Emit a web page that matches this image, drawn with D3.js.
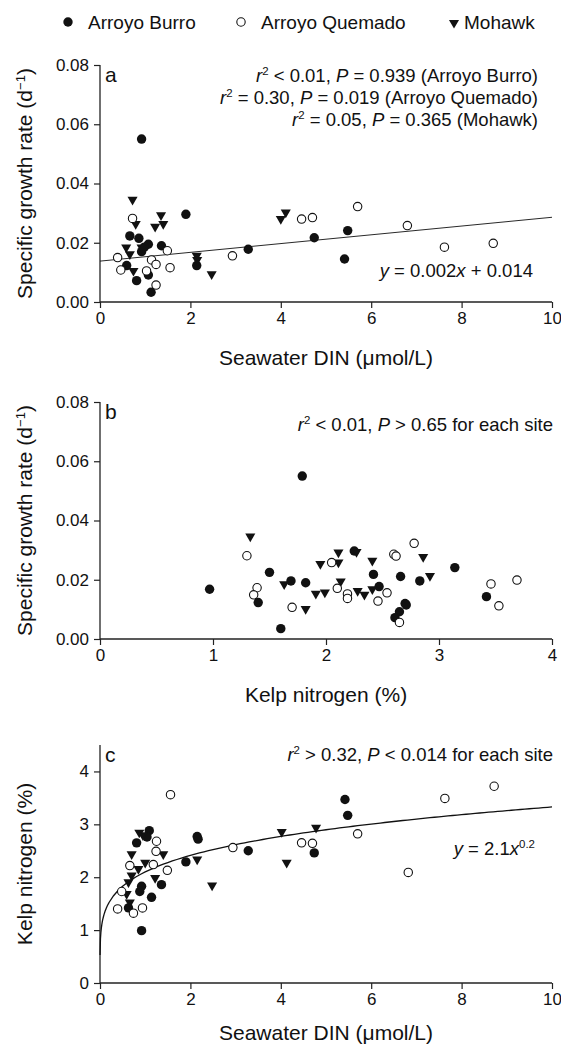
<!DOCTYPE html>
<html>
<head>
<meta charset="utf-8">
<script src="https://cdn.jsdelivr.net/npm/d3@7"></script>
<style>
  body { margin: 0; background: #fff; }
  svg { display: block; font-family: "Liberation Sans", Arial, sans-serif; }
</style>
</head>
<body>
<svg id="chart" width="561" height="1044"></svg>
<script>
// ---- data: [x, y] per site and panel ----
// panel a: seawater DIN (umol/L) vs specific growth rate (per day)
const burroA = [[0.92,0.055],[1.90,0.0296],[0.66,0.0223],[0.86,0.0215],[1.07,0.0195],[0.92,0.017],
  [1.36,0.019],[0.59,0.0123],[1.07,0.0091],[0.81,0.0072],[1.13,0.0033],[2.14,0.0123],
  [3.28,0.0178],[4.74,0.0217],[5.48,0.0241],[5.41,0.0145],[0.98,0.0185]];
const quemadoA = [[0.72,0.0282],[0.39,0.0150],[0.46,0.0108],[1.14,0.0142],[1.24,0.0127],[1.03,0.0105],
  [1.49,0.0173],[1.55,0.0116],[1.24,0.0057],[2.93,0.0156],[4.46,0.0280],[4.70,0.0285],
  [5.70,0.0322],[6.80,0.0258],[7.62,0.0185],[8.70,0.0198]];
const mohawkA = [[0.72,0.0348],[0.79,0.0266],[1.22,0.0257],[1.35,0.0296],[1.40,0.0266],[0.58,0.0187],
  [0.66,0.0164],[0.92,0.0187],[0.74,0.0108],[2.14,0.0159],[2.15,0.0145],[2.47,0.0097],
  [4.00,0.0283],[4.11,0.0305]];
const fitA = [[0, 0.0138], [10, 0.0286]];

// panel b: kelp nitrogen (%) vs specific growth rate
const burroB = [[0.97,0.0168],[1.79,0.055],[1.50,0.0225],[1.69,0.0196],[1.82,0.019],[1.40,0.0123],
  [1.60,0.0035],[2.25,0.0297],[2.42,0.0218],[2.47,0.0177],[2.66,0.0211],[2.83,0.0196],
  [2.70,0.012],[2.71,0.0115],[2.65,0.0092],[2.61,0.0072],[3.14,0.0241],[3.42,0.0143]];
const quemadoB = [[1.30,0.0281],[1.39,0.0173],[1.36,0.0149],[1.70,0.0107],[2.05,0.0258],[2.10,0.0171],
  [2.19,0.0152],[2.19,0.0137],[2.46,0.0128],[2.54,0.0156],[2.60,0.0286],[2.62,0.028],
  [2.78,0.0323],[2.65,0.0056],[3.46,0.0186],[3.69,0.0199],[3.53,0.0112]];
const mohawkB = [[1.33,0.0349],[1.63,0.0188],[1.82,0.0104],[1.91,0.0156],[1.99,0.016],[1.95,0.0256],
  [2.11,0.0295],[2.11,0.0261],[2.13,0.0197],[2.27,0.0297],[2.28,0.0165],[2.34,0.0152],
  [2.41,0.0267],[2.41,0.0171],[2.86,0.028],[2.92,0.0216]];

// panel c: seawater DIN vs kelp nitrogen (%)
const burroC = [[1.09,2.88],[1.04,2.76],[0.81,2.65],[2.15,2.77],[2.17,2.72],[1.90,2.29],[3.28,2.50],
  [4.74,2.46],[1.36,1.86],[0.92,1.83],[0.88,1.73],[1.14,1.62],[0.63,1.42],[0.92,0.99],
  [5.42,3.47],[5.48,3.17]];
const quemadoC = [[1.56,3.56],[1.25,2.68],[1.24,2.49],[0.66,2.22],[1.18,2.24],[1.49,2.13],[0.48,1.73],
  [0.39,1.40],[0.94,1.42],[0.74,1.32],[2.94,2.56],[4.46,2.65],[4.70,2.64],[5.70,2.82],
  [6.82,2.09],[7.63,3.49],[8.72,3.72]];
const mohawkC = [[0.87,2.86],[0.95,2.81],[0.70,2.45],[1.40,2.45],[1.00,2.29],[0.85,2.17],[0.70,2.05],
  [1.22,2.00],[0.63,1.92],[0.59,1.70],[0.66,1.54],[2.15,2.35],[2.48,1.86],[4.02,2.87],
  [4.13,2.29],[4.78,2.95]];
// power fit printed on panel c: y = 2.1 x^0.2
const fitC = { a: 2.1, b: 0.2 };

const siteNames = ["Arroyo Burro", "Arroyo Quemado", "Mohawk"];
const dinTicks = [0, 2, 4, 6, 8, 10];
const kelpNTicks = [0, 1, 2, 3, 4];
const growthTicks = [0, 0.02, 0.04, 0.06, 0.08];
const kelpNYTicks = [0, 1, 2, 3, 4];

// ---- drawing ----
const svg = d3.select("#chart");
const left = 100, right = 552;
const ink = "#111";

// write text made of parts: {t, i (italic), sup (superscript)}
function richText(sel, parts) {
  let shift = 0;
  parts.forEach(p => {
    const ts = sel.append("tspan").text(p.t);
    if (p.i) ts.attr("font-style", "italic");
    const want = p.sup ? -7 : 0;
    if (want !== shift) { ts.attr("dy", want - shift); shift = want; }
    if (p.sup) ts.attr("font-size", "0.62em");
  });
  return sel;
}

function marker(g, kind, x, y) {
  if (kind === 0) {
    g.append("circle").attr("cx", x).attr("cy", y).attr("r", 4.7).attr("fill", ink);
  } else if (kind === 1) {
    g.append("circle").attr("cx", x).attr("cy", y).attr("r", 4.2)
      .attr("fill", "#fff").attr("stroke", ink).attr("stroke-width", 1.1);
  } else {
    g.append("path").attr("d", d3.symbol(d3.symbolTriangle, 44)())
      .attr("transform", `translate(${x},${y + 0.8}) rotate(180)`).attr("fill", ink);
  }
}

function drawPanel(cfg) {
  const x = d3.scaleLinear().domain(cfg.xDomain).range([left, right]);
  const y = d3.scaleLinear().domain(cfg.yDomain).range([cfg.bottom, cfg.top]);
  const g = svg.append("g");

  const xAxis = g.append("g").attr("transform", `translate(0,${cfg.bottom})`)
    .call(d3.axisBottom(x).tickValues(cfg.xTicks).tickSize(6).tickPadding(4).tickFormat(d3.format("d")));
  const yAxis = g.append("g").attr("transform", `translate(${left},0)`)
    .call(d3.axisLeft(y).tickValues(cfg.yTicks).tickSize(6).tickPadding(5).tickFormat(cfg.yFormat));
  [xAxis, yAxis].forEach(a => {
    a.select(".domain").attr("stroke", "#222").attr("stroke-width", 1.3);
    a.selectAll(".tick line").attr("stroke", "#222").attr("stroke-width", 1.2);
    a.selectAll(".tick text").attr("fill", ink).attr("font-size", 17)
      .attr("font-family", "Liberation Sans, Arial, sans-serif");
  });
  // axis lines without end caps
  xAxis.select(".domain").attr("d", `M${left},0H${right}`);
  yAxis.select(".domain").attr("d", `M0,${cfg.bottom}V${cfg.top}`);

  // fit line / curve
  if (cfg.fit) {
    g.append("path").datum(cfg.fit)
      .attr("d", d3.line().x(d => x(d[0])).y(d => y(d[1])))
      .attr("fill", "none").attr("stroke", ink).attr("stroke-width", cfg.fitWidth || 1);
  }

  // points: filled circles, triangles, then open circles on top
  const pts = g.append("g");
  [[cfg.series[0], 0], [cfg.series[2], 2], [cfg.series[1], 1]].forEach(([arr, kind]) => {
    arr.forEach(d => marker(pts, kind, x(d[0]), y(d[1])));
  });

  // panel letter
  g.append("text").attr("x", left + 5).attr("y", cfg.top + 17)
    .attr("font-size", 21).attr("fill", ink).text(cfg.letter);

  // x title
  g.append("text").attr("x", (left + right) / 2).attr("y", cfg.bottom + cfg.xTitleDy)
    .attr("text-anchor", "middle").attr("font-size", 21).attr("fill", ink).text(cfg.xTitle);

  // y title
  const yt = g.append("text")
    .attr("transform", `translate(32,${(cfg.top + cfg.bottom) / 2}) rotate(-90)`)
    .attr("text-anchor", "middle").attr("font-size", 21).attr("fill", ink);
  richText(yt, cfg.yTitle);

  // annotations
  cfg.notes.forEach(n => {
    const t = g.append("text").attr("x", n.x).attr("y", n.y)
      .attr("text-anchor", n.anchor || "end").attr("font-size", 18.5).attr("fill", ink);
    richText(t, n.parts);
  });

  return { x, y };
}

const growthTitle = [{ t: "Specific growth rate (d" }, { t: "−1", sup: true }, { t: ")" }];

drawPanel({
  letter: "a", top: 65, bottom: 302,
  xDomain: [0, 10], yDomain: [0, 0.08], xTicks: dinTicks, yTicks: growthTicks,
  yFormat: d3.format(".2f"),
  series: [burroA, quemadoA, mohawkA], fit: fitA, fitWidth: 0.9,
  xTitle: "Seawater DIN (\u03bcmol/L)", xTitleDy: 63, yTitle: growthTitle,
  notes: [
    { x: 538, y: 82, parts: [{ t: "r", i: true }, { t: "2", sup: true }, { t: " < 0.01, " }, { t: "P", i: true }, { t: " = 0.939 (Arroyo Burro)" }] },
    { x: 538, y: 104, parts: [{ t: "r", i: true }, { t: "2", sup: true }, { t: " = 0.30, " }, { t: "P", i: true }, { t: " = 0.019 (Arroyo Quemado)" }] },
    { x: 538, y: 126, parts: [{ t: "r", i: true }, { t: "2", sup: true }, { t: " = 0.05, " }, { t: "P", i: true }, { t: " = 0.365 (Mohawk)" }] },
    { x: 533, y: 277, parts: [{ t: "y", i: true }, { t: " = 0.002" }, { t: "x", i: true }, { t: " + 0.014" }] }
  ]
});

drawPanel({
  letter: "b", top: 402, bottom: 639,
  xDomain: [0, 4], yDomain: [0, 0.08], xTicks: kelpNTicks, yTicks: growthTicks,
  yFormat: d3.format(".2f"),
  series: [burroB, quemadoB, mohawkB],
  xTitle: "Kelp nitrogen (%)", xTitleDy: 63, yTitle: growthTitle,
  notes: [
    { x: 553, y: 431, parts: [{ t: "r", i: true }, { t: "2", sup: true }, { t: " < 0.01, " }, { t: "P", i: true }, { t: " > 0.65 for each site" }] }
  ]
});

// fitted curve sampled along the DIN axis (starts just above zero, as in the figure)
const curveX = [0.001].concat(d3.range(0.01, 0.2, 0.01), d3.range(0.2, 10.001, 0.1));
const curve = curveX.map(v => [v, fitC.a * Math.pow(v, fitC.b)]);
drawPanel({
  letter: "c", top: 745, bottom: 983,
  xDomain: [0, 10], yDomain: [0, 4.5], xTicks: dinTicks, yTicks: kelpNYTicks,
  yFormat: d3.format("d"),
  series: [burroC, quemadoC, mohawkC], fit: curve, fitWidth: 1.3,
  xTitle: "Seawater DIN (\u03bcmol/L)", xTitleDy: 57, yTitle: [{ t: "Kelp nitrogen (%)" }],
  notes: [
    { x: 553, y: 761, parts: [{ t: "r", i: true }, { t: "2", sup: true }, { t: " > 0.32, " }, { t: "P", i: true }, { t: " < 0.014 for each site" }] },
    { x: 535, y: 855, parts: [{ t: "y", i: true }, { t: " = 2.1" }, { t: "x", i: true }, { t: "0.2", sup: true }] }
  ]
});

// legend
const legend = svg.append("g").attr("transform", "translate(0,22)");
const legendX = [68, 241, 454];
siteNames.forEach((name, i) => {
  marker(legend, i, legendX[i], 0);
  legend.append("text").attr("x", legendX[i] + (i === 2 ? 10 : 20)).attr("y", 7)
    .attr("font-size", 19).attr("fill", ink).text(name);
});
</script>
</body>
</html>
